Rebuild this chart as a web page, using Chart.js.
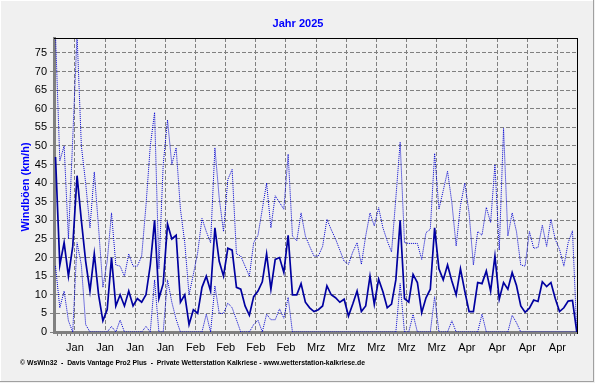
<!DOCTYPE html>
<html><head><meta charset="utf-8">
<script src="https://cdn.jsdelivr.net/npm/chart.js@4/dist/chart.umd.min.js"></script>
<style>html,body{margin:0;padding:0;background:#F0F0F0;}canvas{display:block;}</style>
</head><body>
<canvas id="c" width="595" height="383"></canvas>
<script>
const chartTitle = 'Jahr 2025';
const yAxisTitle = 'Windböen (km/h)';
const footerText = '\u00A9 WsWin32  -  Davis Vantage Pro2 Plus  -  Private Wetterstation Kalkriese - www.wetterstation-kalkriese.de';

// weekly tick labels (Jan 5, 12, 19, 26, Feb 2 ... Apr 27)
const xTickLabels = ['Jan','Jan','Jan','Jan','Feb','Feb','Feb','Feb','Mrz','Mrz','Mrz','Mrz','Mrz','Apr','Apr','Apr','Apr'];
const yTickLabels = ['0','5','10','15','20','25','30','35','40','45','50','55','60','65','70','75'];

// daily values, Jan 1 ... May 2
const windAvg = [47,18,24,15,23,42,30,19,11,21,
  10,3,6,20,7,10,7,11,7,9,
  8,10,18,30,9,13,29,25,26,8,
  10,2,6,5,12,15,11,28,19,15,
  22.5,22,12,11.5,7,4.5,9.5,11,13.5,21,
  11.5,19.5,20,16,26,10,10,13,8,6.5,
  5.5,6,7,12.4,10,9.2,8,8.8,4.3,7.5,
  11,5.5,7,15,7.4,14.2,10.8,6.5,7.5,14,
  30,9,8,15.5,13.3,5.2,9.2,11.5,28,17,
  14,18,13.7,10,17,11,5.5,5.5,13.3,13,
  16.4,11,20.4,8.8,13.3,11.5,16,12.5,7,5.3,
  6.4,8.6,8.2,13.5,12.2,13.3,9,5.5,6.5,8.3,
  8.5,0];
const windMax = [80,46,50,25,52,80,50,40,28,43,
  28,12,19,32,18,17.7,15,21,17.7,17.7,
  20.4,34,50,59,17,45,57,45,49.5,33,
  24,10,15.5,21.3,30.5,27,24,49.5,36,27,
  41,43.7,21,20.4,17.7,15,24,26,33,40,
  28,36.6,34.8,33,47.8,25.8,24.5,32,25.8,23,
  20.4,20.4,23,30.3,27.5,25,22,19,18.2,21.5,
  24,18.2,25.8,32,28.5,33.4,28,24.5,21.5,36,
  51,24,23.8,23.8,23.8,19.5,26.7,27.6,48,33,
  38,43.2,34.8,23.1,34,40,32,18,27,26,
  33.5,29.4,45,22,54.7,25.8,32,27,18,17.7,
  27,22.5,22.7,28.7,23,30.3,24.9,22.2,17.7,24,
  27.2,0];
const windMin = [17.7,6.5,11,3,0,24,18,2,0,0,
  0,0,0,1.5,0,3.2,0,0,0,0,
  0,1.5,0,14,0,0,14,8,3.4,0,
  0,0,0,0,0,4.8,0,12.4,5,5,
  7.8,6.5,3.3,0,0,0,2,3.2,0,4.8,
  3.3,3.3,6.2,3.7,9.3,0,0,0,0,0,
  0,0,0,0,0,0,0,0,0,0,
  0,0,0,0,0,0,0,0,0,0,
  13,0,0,4.7,0,0,0,0,9.5,0,
  0,0,3,0,0,0,0,0,0,4.8,
  0,0,0,0,0,0,4.5,2.5,0,0,
  0,0,0,0,0,0,0,0,0,0,
  0,0];

const FONT = '"Liberation Sans", Arial, sans-serif';
const dayTicks = windAvg.slice(0, windAvg.length - 1).map((_, i) => i + 0.5);
const weekIndex = v => { const k = Math.round(v - 0.5); return (k >= 4 && (k - 4) % 7 === 0) ? (k - 4) / 7 : -1; };
const yMinor = Array.from({length: 80}, (_, i) => i);

const toPts = arr => arr.map((v, i) => ({x: i, y: v}));

const decor = {
  id: 'decor',
  beforeDraw(chart) {
    const ctx = chart.ctx;
    ctx.save();
    ctx.fillStyle = '#F0F0F0';
    ctx.fillRect(0, 0, chart.width, chart.height);
    ctx.strokeStyle = '#FFFFFF'; ctx.lineWidth = 1;
    ctx.beginPath(); ctx.moveTo(0, 0.5); ctx.lineTo(594, 0.5); ctx.moveTo(0.5, 0); ctx.lineTo(0.5, 382); ctx.stroke();
    ctx.strokeStyle = '#A0A0A0';
    ctx.beginPath(); ctx.moveTo(593.5, 0); ctx.lineTo(593.5, 382); ctx.moveTo(0, 381.5); ctx.lineTo(594, 381.5); ctx.stroke();
    ctx.restore();
  },
  afterDraw(chart) {
    const ctx = chart.ctx, a = chart.chartArea;
    ctx.save();
    ctx.strokeStyle = '#000'; ctx.lineWidth = 1;
    ctx.beginPath();
    ctx.moveTo(a.left, a.top + 0.5); ctx.lineTo(a.right + 1, a.top + 0.5);
    ctx.moveTo(a.right + 0.5, a.top); ctx.lineTo(a.right + 0.5, a.bottom + 2);
    ctx.stroke();
    ctx.fillStyle = '#0000FF';
    ctx.font = 'bold 11px ' + FONT;
    ctx.textAlign = 'center'; ctx.textBaseline = 'middle';
    ctx.fillText(chartTitle, 298, 24);
    ctx.save();
    ctx.translate(26, 187); ctx.rotate(-Math.PI / 2);
    ctx.fillText(yAxisTitle, 0, 0);
    ctx.restore();
    ctx.fillStyle = '#000';
    ctx.font = 'bold 7px ' + FONT;
    ctx.textAlign = 'left';
    ctx.fillText(footerText, 20, 363, 345);
    ctx.restore();
  }
};

new Chart(document.getElementById('c'), {
  type: 'line',
  data: {
    datasets: [
      {data: toPts(windAvg), borderColor: '#0000A0', borderWidth: 1.7, pointRadius: 0, tension: 0, fill: false},
      {data: toPts(windMax), borderColor: '#0000D0', borderWidth: 1, borderDash: [1, 1], pointRadius: 0, tension: 0, fill: false},
      {data: toPts(windMin), borderColor: '#0000D0', borderWidth: 1, borderDash: [1, 1], pointRadius: 0, tension: 0, fill: false}
    ]
  },
  options: {
    responsive: false, animation: false, devicePixelRatio: 1,
    layout: {padding: {top: 38, right: 18, left: 0, bottom: 0}},
    plugins: {legend: {display: false}, tooltip: {enabled: false}, title: {display: false}},
    scales: {
      x: {
        type: 'linear', min: -0.35, max: 121.05,
        afterBuildTicks: s => { s.ticks = dayTicks.map(v => ({value: v})); },
        afterFit: s => { s.height = 51; },
        grid: {
          color: c => (c.tick && weekIndex(c.tick.value) >= 0) ? '#808080' : 'rgba(0,0,0,0)',
          tickColor: '#808080', tickLength: 4, lineWidth: 1, drawTicks: true
        },
        border: {display: true, color: '#808080', width: 3, dash: [4, 2]},
        ticks: {
          autoSkip: false, maxRotation: 0, minRotation: 0, padding: 5, color: '#000',
          font: {family: FONT, size: 11},
          callback: v => { const w = weekIndex(v); return w >= 0 ? xTickLabels[w] : ''; }
        }
      },
      y: {
        type: 'linear', min: 0, max: 79,
        afterBuildTicks: s => { s.ticks = yMinor.map(v => ({value: v})); },
        afterFit: s => { s.width = 54; },
        grid: {
          color: c => (c.tick && c.tick.value > 0 && c.tick.value % 5 === 0) ? '#808080' : 'rgba(0,0,0,0)',
          tickColor: '#808080', tickLength: 4, lineWidth: 1, drawTicks: true
        },
        border: {display: true, color: '#808080', width: 3, dash: [4, 2]},
        ticks: {
          padding: 3, color: '#000', font: {family: FONT, size: 11},
          callback: v => (v % 5 === 0 && v / 5 < yTickLabels.length) ? yTickLabels[v / 5] : ''
        }
      }
    }
  },
  plugins: [decor]
});
</script>
</body></html>
